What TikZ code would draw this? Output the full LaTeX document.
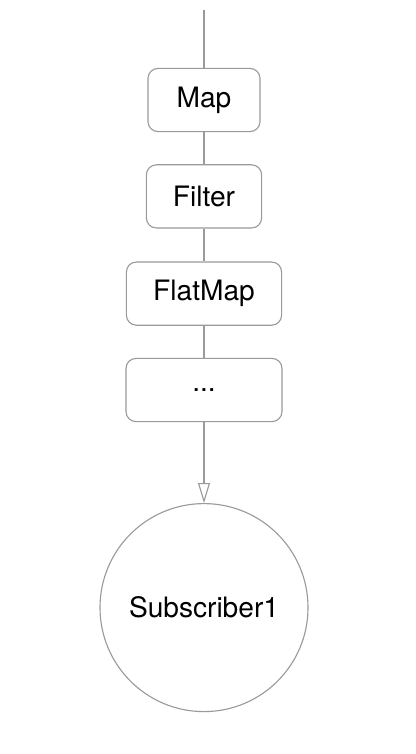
\documentclass[tikz,border=0pt]{standalone}
\usepackage{fontspec}
\setmainfont{TeX Gyre Heros}
\usetikzlibrary{arrows.meta}
\definecolor{linegray}{HTML}{9A9A9A}
\tikzset{
  opbox/.style={draw=linegray,line width=0.8pt,rounded corners=0.25cm,minimum height=1.58cm,font=\fontsize{20}{24}\selectfont},
  flow/.style={draw=linegray,line width=0.8pt}
}
\begin{document}
\begin{tikzpicture}
                \useasboundingbox (0,0) rectangle (10.4,-18.85);
                %% operators
                \coordinate (src) at (5.1,-0.25);
                \node[opbox,minimum width=2.8cm] (map) at (5.1,-2.5) {Map};
                \node[opbox,minimum width=2.88cm] (filter) at (5.1,-4.91) {Filter};
                \node[opbox,minimum width=3.88cm] (flatmap) at (5.1,-7.34) {FlatMap};
                \node[opbox,minimum width=3.9cm] (more) at (5.1,-9.75) {...};
                %% subscriber
                \node[draw=linegray,line width=0.8pt,circle,minimum size=5.2cm,font=\fontsize{20}{24}\selectfont] (sub) at (5.1,-15.19) {Subscriber1};
                %% connectors
                \draw[flow] (src) -- (map);
                \draw[flow] (map) -- (filter);
                \draw[flow] (filter) -- (flatmap);
                \draw[flow] (flatmap) -- (more);
                \draw[flow,-{Triangle[open,length=0.5cm,width=0.3cm]}] (more) -- (sub);
            \end{tikzpicture}
\end{document}
